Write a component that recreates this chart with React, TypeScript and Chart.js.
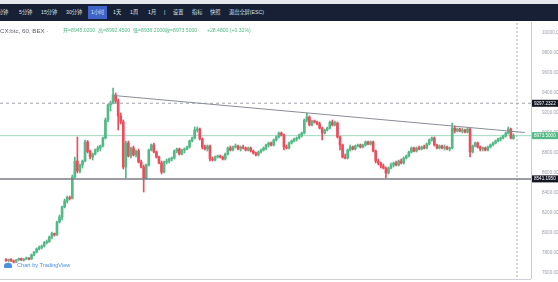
import React, { useEffect, useRef } from 'react';
import { Chart, registerables } from 'chart.js';

Chart.register(...registerables);

// ---- data (hourly candles) ----
const OPEN = [
  7735, 7725, 7735, 7720, 7710, 7730, 7745, 7730, 7740, 7750,
  7740, 7780, 7810, 7840, 7855, 7870, 7905, 7915, 7960, 7995,
  7980, 8110, 8160, 8260, 8320, 8355, 8345, 8560, 8720, 8620,
  8680, 8720, 8910, 8815, 8760, 8790, 8830, 8850, 8870, 8950,
  9130, 9280, 9300, 9380, 9320, 9170, 9110, 8660, 8900, 8770,
  8850, 8780, 8820, 8710, 8660, 8550, 8680, 8830, 8880, 8810,
  8760, 8700, 8610, 8710, 8720, 8740, 8750, 8820, 8840, 8790,
  8830, 8840, 8860, 8920, 8950, 9030, 9040, 8940, 8860, 8840,
  8870, 8740, 8730, 8760, 8770, 8760, 8740, 8790, 8850, 8830,
  8860, 8870, 8840, 8860, 8850, 8830, 8850, 8820, 8800, 8780,
  8810, 8830, 8850, 8880, 8900, 8880, 8930, 8960, 9000, 8980,
  8860, 8850, 8900, 8920, 8940, 8950, 8980, 9000, 9130, 9160,
  9080, 9120, 9110, 9090, 9050, 9000, 9030, 9050, 9110, 9080,
  9100, 8960, 8880, 8760, 8750, 8830, 8860, 8840, 8870, 8880,
  8860, 8880, 8910, 8890, 8910, 8820, 8720, 8700, 8670, 8650,
  8600, 8650, 8680, 8700, 8680, 8720, 8700, 8750, 8770, 8810,
  8850, 8820, 8850, 8840, 8860, 8850, 8890, 8930, 8950, 8880,
  8850, 8870, 8850, 8860, 8840, 8850, 9050, 9020, 9040, 9020,
  9030, 9010, 9040, 8810, 8870, 8900, 8860, 8840, 8850, 8830,
  8860, 8880, 8900, 8920, 8940, 8950, 8970, 9000, 9040, 8945.02,
];
const HIGH = [
  7745, 7740, 7745, 7730, 7735, 7750, 7750, 7745, 7760, 7755,
  7790, 7815, 7850, 7870, 7880, 7915, 7930, 7970, 8010, 8000,
  8120, 8180, 8270, 8340, 8370, 8370, 8580, 8760, 8960, 8690,
  8730, 8930, 8925, 8830, 8800, 8840, 8870, 8880, 8960, 9150,
  9290, 9320, 9450, 9400, 9340, 9200, 9130, 8920, 8920, 8860,
  8870, 8830, 8840, 8730, 8680, 8690, 8840, 8890, 8900, 8820,
  8770, 8720, 8720, 8740, 8750, 8760, 8830, 8850, 8850, 8840,
  8850, 8870, 8930, 8960, 9060, 9060, 9050, 8950, 8880, 8880,
  8880, 8760, 8770, 8780, 8780, 8770, 8800, 8860, 8870, 8870,
  8890, 8880, 8870, 8880, 8860, 8860, 8860, 8830, 8810, 8820,
  8840, 8860, 8890, 8910, 8910, 8940, 8970, 9010, 9010, 8990,
  8880, 8910, 8930, 8950, 8960, 8990, 9010, 9140, 9200, 9170,
  9130, 9130, 9120, 9110, 9060, 9040, 9060, 9120, 9130, 9120,
  9110, 8970, 8890, 8790, 8840, 8880, 8870, 8880, 8890, 8890,
  8890, 8920, 8920, 8920, 8920, 8830, 8740, 8710, 8690, 8660,
  8660, 8700, 8710, 8720, 8730, 8740, 8760, 8780, 8820, 8860,
  8860, 8860, 8870, 8870, 8880, 8900, 8940, 8960, 8960, 8890,
  8880, 8880, 8880, 8870, 8860, 9100, 9070, 9050, 9050, 9050,
  9040, 9050, 9050, 8880, 8910, 8910, 8870, 8860, 8860, 8870,
  8890, 8910, 8930, 8950, 8960, 8980, 9010, 9060, 9050, 8992.45,
];
const LOW = [
  7715, 7710, 7715, 7700, 7705, 7725, 7725, 7720, 7735, 7730,
  7735, 7770, 7800, 7830, 7840, 7860, 7890, 7905, 7940, 7970,
  7975, 8100, 8130, 8250, 8300, 8330, 8340, 8550, 8600, 8600,
  8650, 8710, 8800, 8740, 8730, 8780, 8810, 8820, 8860, 8940,
  9110, 9220, 9290, 9300, 9030, 9090, 8640, 8550, 8760, 8750,
  8770, 8760, 8700, 8650, 8410, 8540, 8670, 8820, 8800, 8750,
  8690, 8590, 8600, 8690, 8700, 8720, 8740, 8800, 8780, 8780,
  8800, 8830, 8850, 8910, 8940, 9010, 8930, 8840, 8830, 8820,
  8720, 8720, 8720, 8750, 8750, 8730, 8730, 8780, 8820, 8820,
  8850, 8830, 8820, 8840, 8820, 8820, 8810, 8790, 8770, 8770,
  8800, 8820, 8830, 8860, 8870, 8870, 8920, 8950, 8970, 8830,
  8840, 8840, 8890, 8910, 8920, 8940, 8960, 8990, 9110, 9070,
  9070, 9100, 9080, 9040, 8930, 8990, 9020, 9040, 9070, 9070,
  8950, 8830, 8750, 8740, 8740, 8820, 8830, 8830, 8860, 8850,
  8850, 8870, 8880, 8880, 8810, 8700, 8680, 8650, 8640, 8550,
  8590, 8640, 8660, 8670, 8670, 8690, 8690, 8740, 8760, 8800,
  8810, 8810, 8830, 8830, 8840, 8840, 8880, 8920, 8870, 8840,
  8840, 8840, 8830, 8830, 8820, 8840, 9000, 9010, 9010, 9000,
  9000, 9000, 8760, 8800, 8860, 8850, 8820, 8820, 8820, 8820,
  8850, 8870, 8890, 8910, 8920, 8940, 8960, 8990, 8940, 8936.2,
];
const CLOSE = [
  7725, 7735, 7720, 7710, 7730, 7745, 7730, 7740, 7750, 7740,
  7780, 7810, 7840, 7855, 7870, 7905, 7915, 7960, 7995, 7980,
  8110, 8160, 8260, 8320, 8355, 8345, 8560, 8720, 8620, 8680,
  8720, 8910, 8815, 8760, 8790, 8830, 8850, 8870, 8950, 9130,
  9280, 9300, 9380, 9320, 9170, 9110, 8660, 8900, 8770, 8850,
  8780, 8820, 8710, 8660, 8550, 8680, 8830, 8880, 8810, 8760,
  8700, 8610, 8710, 8720, 8740, 8750, 8820, 8840, 8790, 8830,
  8840, 8860, 8920, 8950, 9030, 9040, 8940, 8860, 8840, 8870,
  8740, 8730, 8760, 8770, 8760, 8740, 8790, 8850, 8830, 8860,
  8870, 8840, 8860, 8850, 8830, 8850, 8820, 8800, 8780, 8810,
  8830, 8850, 8880, 8900, 8880, 8930, 8960, 9000, 8980, 8860,
  8850, 8900, 8920, 8940, 8950, 8980, 9000, 9130, 9160, 9080,
  9120, 9110, 9090, 9050, 9000, 9030, 9050, 9110, 9080, 9100,
  8960, 8880, 8760, 8750, 8830, 8860, 8840, 8870, 8880, 8860,
  8880, 8910, 8890, 8910, 8820, 8720, 8700, 8670, 8650, 8600,
  8650, 8680, 8700, 8680, 8720, 8700, 8750, 8770, 8810, 8850,
  8820, 8850, 8840, 8860, 8850, 8890, 8930, 8950, 8880, 8850,
  8870, 8850, 8860, 8840, 8850, 9050, 9020, 9040, 9020, 9030,
  9010, 9040, 8810, 8870, 8900, 8860, 8840, 8850, 8830, 8860,
  8880, 8900, 8920, 8940, 8950, 8970, 9000, 9040, 8950, 8973.5,
];

const PRICE_TICKS = [7600, 7800, 8000, 8200, 8400, 8600, 8800, 9000, 9200, 9400, 9600, 9800, 10000];
const RESISTANCE = 9297.2322;
const SUPPORT = 8541.195;
const LAST_PRICE = 8973.5;
const TREND_START = { x: 42.3, y: 9375 };
const TREND_END = { x: 203.5, y: 9005 };
const CURSOR_INDEX = 200.4;

const TOOLBAR = [
  { t: '1分钟', x: -5 },
  { t: '5分钟', x: 19 },
  { t: '15分钟', x: 41 },
  { t: '30分钟', x: 66 },
  { t: '1小时', x: 91, active: true },
  { t: '1天', x: 113 },
  { t: '1周', x: 130 },
  { t: '1月', x: 148 },
  { t: '|', x: 164 },
  { t: '设置', x: 173 },
  { t: '指标', x: 192 },
  { t: '快照', x: 210 },
  { t: '退出全屏(ESC)', x: 229 },
];
const LEGEND = [
  { t: '开=8945.0200', x: 63 },
  { t: '高=8992.4500', x: 98 },
  { t: '低=8936.2000', x: 133 },
  { t: '收=8973.5000', x: 165 },
  { t: '+28.4800 (+0.32%)', x: 207 },
];

const UP = '#53b987';
const DOWN = '#eb4d5c';
const FONT = '"Liberation Sans", Arial, "Noto Sans CJK SC", sans-serif';

export default function App() {
  const ref = useRef<HTMLCanvasElement>(null);

  useEffect(() => {
    document.body.style.margin = '0';
    const colors = CLOSE.map((c, i) => (c >= OPEN[i] ? UP : DOWN));
    const xMin = -2.35;
    const xMax = 205.9;

    const priceLabels = {
      id: 'priceLabels',
      afterDraw(chart: any) {
        const { ctx, chartArea } = chart;
        const y = chart.scales.y;
        const items: [number, string][] = [
          [RESISTANCE, '#131722'],
          [LAST_PRICE, UP],
          [SUPPORT, '#131722'],
        ];
        ctx.save();
        ctx.font = '4.6px ' + FONT;
        ctx.textBaseline = 'middle';
        ctx.textAlign = 'left';
        for (const [v, bg] of items) {
          const py = y.getPixelForValue(v);
          ctx.fillStyle = bg;
          ctx.fillRect(chartArea.right + 1, py - 3.5, 30, 7);
          ctx.fillStyle = '#ffffff';
          ctx.fillText(v.toFixed(4), chartArea.right + 3, py + 0.3);
        }
        ctx.restore();
      },
    };

    const chart = new Chart(ref.current!, {
      type: 'bar',
      data: {
        datasets: [
          {
            type: 'line',
            data: [TREND_START, TREND_END],
            borderColor: '#8a8d96',
            borderWidth: 1,
            pointRadius: 0,
            order: 0,
          } as any,
          {
            type: 'line',
            data: [{ x: xMin, y: RESISTANCE }, { x: xMax, y: RESISTANCE }],
            borderColor: '#a3a6af',
            borderWidth: 1,
            borderDash: [3, 3],
            pointRadius: 0,
            order: 0,
          },
          {
            type: 'line',
            data: [{ x: xMin, y: SUPPORT }, { x: xMax, y: SUPPORT }],
            borderColor: '#7a7c84',
            borderWidth: 1.5,
            pointRadius: 0,
            order: 0,
          },
          {
            type: 'line',
            data: [{ x: CURSOR_INDEX, y: 7000 }, { x: CURSOR_INDEX, y: 10500 }],
            borderColor: '#a8abb3',
            borderWidth: 1,
            borderDash: [2, 2],
            pointRadius: 0,
            order: 0,
          },
          {
            type: 'line',
            data: [{ x: xMin, y: LAST_PRICE }, { x: xMax, y: LAST_PRICE }],
            borderColor: 'rgba(83,185,135,0.55)',
            borderWidth: 1,
            pointRadius: 0,
            order: 5,
          },
          {
            type: 'bar',
            data: CLOSE.map((_, i) => ({ x: i, y: [LOW[i], HIGH[i]] })),
            backgroundColor: colors,
            barThickness: 1,
            grouped: false,
            order: 2,
          } as any,
          {
            type: 'bar',
            data: CLOSE.map((c, i) => ({ x: i, y: [OPEN[i], c] })),
            backgroundColor: colors,
            barThickness: 2,
            minBarLength: 1,
            grouped: false,
            order: 1,
          } as any,
        ],
      },
      plugins: [priceLabels],
      options: {
        responsive: false,
        animation: false,
        events: [],
        layout: { padding: 0 },
        plugins: { legend: { display: false }, tooltip: { enabled: false } },
        scales: {
          x: {
            type: 'linear',
            min: xMin,
            max: xMax,
            offset: false,
            display: false,
          },
          y: {
            position: 'right',
            min: 7540,
            max: 10110,
            grid: { display: false },
            border: { display: true, color: '#c9ccd4', width: 1 },
            ticks: {
              font: { size: 4.6, family: FONT },
              color: '#9ba0ac',
              padding: 3,
              callback: (v: any) => Number(v).toFixed(4),
            },
            afterBuildTicks: (scale: any) => {
              scale.ticks = PRICE_TICKS.map((v) => ({ value: v }));
            },
            afterFit: (scale: any) => {
              scale.width = 27;
              scale.paddingTop = 0;
              scale.paddingBottom = 0;
            },
          },
        },
      },
    });
    return () => chart.destroy();
  }, []);

  return (
    <div
      style={{
        position: 'fixed',
        left: 0,
        top: 0,
        width: 558,
        height: 282,
        background: '#ffffff',
        overflow: 'hidden',
        fontFamily: FONT,
      }}
    >
      <div style={{ position: 'absolute', left: 0, top: 0, width: 558, height: 4, background: '#e6e8ec' }} />
      <div style={{ position: 'absolute', left: 0, top: 4, width: 558, height: 17, background: '#172034' }} />
      {TOOLBAR.map((b) =>
        b.active ? (
          <div
            key={b.t}
            style={{ position: 'absolute', left: 88, top: 6, width: 19, height: 13, background: '#3f63c8' }}
          />
        ) : null
      )}
      {TOOLBAR.map((b) => (
        <div
          key={'t' + b.t}
          style={{
            position: 'absolute',
            left: b.x,
            top: 9,
            fontSize: 5.2,
            lineHeight: '7px',
            color: '#dfe3ea',
            whiteSpace: 'nowrap',
          }}
        >
          {b.t}
        </div>
      ))}
      <canvas
        ref={ref}
        width={558}
        height={257}
        style={{ position: 'absolute', left: 0, top: 22, width: 558, height: 257 }}
      />
      <div style={{ position: 'absolute', left: 0, top: 279, width: 531, height: 1, background: '#cfd1d6' }} />
      <div
        style={{
          position: 'absolute',
          left: 0,
          top: 27,
          fontSize: 6.2,
          lineHeight: '7px',
          color: '#5d606b',
          whiteSpace: 'nowrap',
        }}
      >
        CX:btc, 60, BEX ·
      </div>
      {LEGEND.map((l) => (
        <div
          key={l.t}
          style={{
            position: 'absolute',
            left: l.x,
            top: 27,
            fontSize: 5.1,
            lineHeight: '7px',
            color: UP,
            whiteSpace: 'nowrap',
          }}
        >
          {l.t}
        </div>
      ))}
      <div
        style={{
          position: 'absolute',
          left: 4,
          top: 263,
          width: 8,
          height: 5,
          borderRadius: '3px 3px 1px 1px',
          background: '#4a8fe0',
        }}
      />
      <div
        style={{
          position: 'absolute',
          left: 17,
          top: 262,
          fontSize: 5.6,
          lineHeight: '7px',
          color: '#4a8fe0',
          whiteSpace: 'nowrap',
        }}
      >
        Chart by TradingView
      </div>
    </div>
  );
}
